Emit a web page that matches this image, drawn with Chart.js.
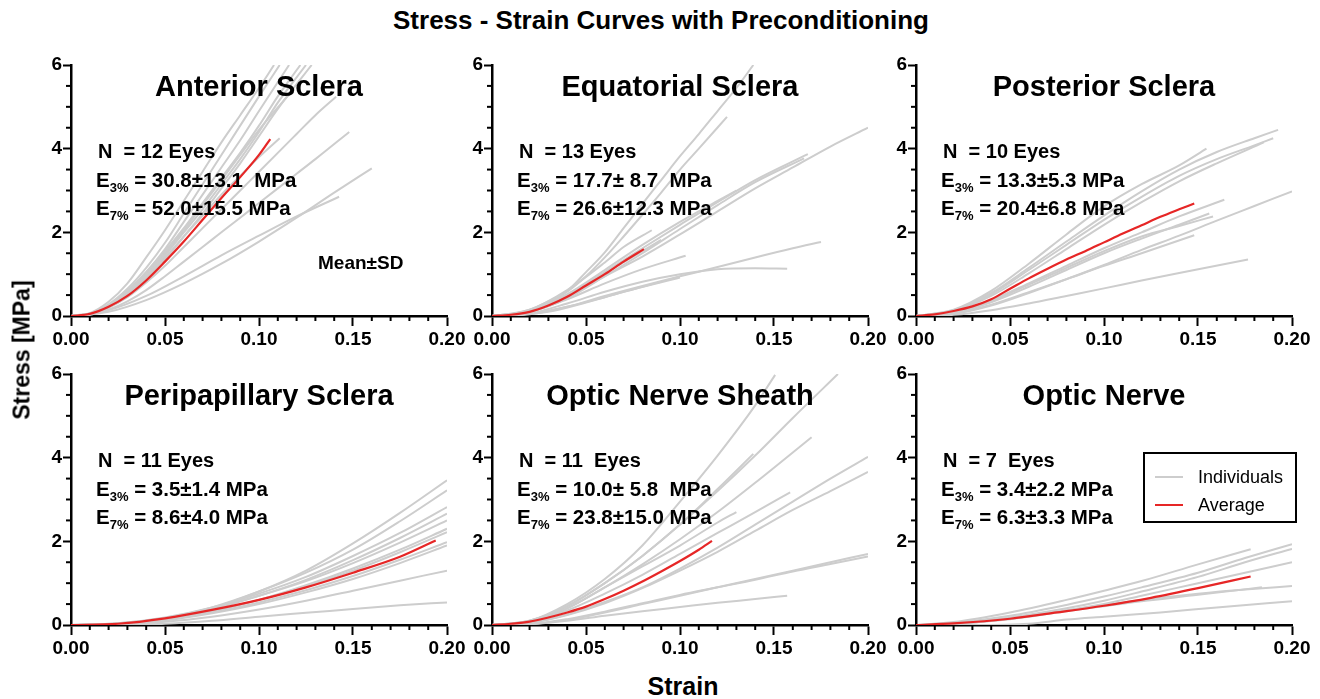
<!DOCTYPE html>
<html>
<head>
<meta charset="utf-8">
<script src="https://cdn.jsdelivr.net/npm/chart.js@4.4.1/dist/chart.umd.min.js"></script>
<style>
  body { margin: 0; background: #fff; width: 1320px; height: 699px; overflow: hidden; position: relative;
         font-family: 'Liberation Sans', Arial, sans-serif; color: #000; }
  canvas { position: absolute; }
  .t { position: absolute; white-space: pre; line-height: 1; font-weight: bold; }
  .c { transform: translate(-50%, -50%); }
  .l { transform: translateY(-50%); }
  .sub { font-size: 13px; position: relative; top: 5px; }
  #legend { position: absolute; left: 1143px; top: 452px; width: 150px; height: 67px; border: 2px solid #000; background: #fff; }
  #legend .row { position: absolute; left: 0; height: 20px; font-size: 18px; line-height: 20px; }
  #legend .sw { position: absolute; left: 10px; top: 9px; width: 28px; height: 2px; }
  #legend .lab { position: absolute; left: 53px; top: 0; white-space: nowrap; }
</style>
</head>
<body>
<script>
// panel order: row 1 then row 2
const panelTitles = ['Anterior Sclera', 'Equatorial Sclera', 'Posterior Sclera',
                     'Peripapillary Sclera', 'Optic Nerve Sheath', 'Optic Nerve'];
const eyeLabels = ['N  = 12 Eyes', 'N  = 13 Eyes', 'N  = 10 Eyes', 'N  = 11 Eyes', 'N  = 11  Eyes', 'N  = 7  Eyes'];
const e3Labels = [' = 30.8±13.1  MPa', ' = 17.7± 8.7  MPa', ' = 13.3±5.3 MPa', ' = 3.5±1.4 MPa', ' = 10.0± 5.8  MPa', ' = 3.4±2.2 MPa'];
const e7Labels = [' = 52.0±15.5 MPa', ' = 26.6±12.3 MPa', ' = 20.4±6.8 MPa', ' = 8.6±4.0 MPa', ' = 23.8±15.0 MPa', ' = 6.3±3.3 MPa'];
const xTicks = [0, 0.05, 0.10, 0.15, 0.20];
const yTicks = [0, 2, 4, 6];

// [strain, stress MPa]
const anteriorIndividuals = [
  [[0,0],[0.01,0.07],[0.02,0.34],[0.03,0.78],[0.04,1.4],[0.05,2.05],[0.06,2.75],[0.07,3.45],[0.08,4.15],[0.09,4.8],[0.1,5.45],[0.108,6.0]],
  [[0,0],[0.01,0.06],[0.02,0.28],[0.03,0.65],[0.04,1.15],[0.05,1.75],[0.06,2.45],[0.07,3.15],[0.08,3.85],[0.09,4.55],[0.1,5.25],[0.111,6.0]],
  [[0,0],[0.01,0.05],[0.02,0.25],[0.03,0.6],[0.04,1.05],[0.05,1.6],[0.06,2.25],[0.07,2.9],[0.08,3.55],[0.09,4.2],[0.1,4.9],[0.116,6.0]],
  [[0,0],[0.01,0.05],[0.02,0.26],[0.03,0.6],[0.04,1.05],[0.05,1.55],[0.06,2.1],[0.07,2.7],[0.08,3.3],[0.09,3.9],[0.1,4.55],[0.11,5.25],[0.122,6.0]],
  [[0,0],[0.01,0.04],[0.02,0.22],[0.03,0.55],[0.04,0.95],[0.05,1.45],[0.06,2.0],[0.07,2.55],[0.08,3.15],[0.09,3.75],[0.1,4.4],[0.11,5.1],[0.125,6.0]],
  [[0,0],[0.01,0.04],[0.02,0.2],[0.03,0.5],[0.04,0.9],[0.05,1.35],[0.06,1.9],[0.07,2.45],[0.08,3.05],[0.09,3.65],[0.1,4.3],[0.11,4.95],[0.128,6.0]],
  [[0,0],[0.01,0.04],[0.02,0.2],[0.03,0.45],[0.04,0.8],[0.05,1.2],[0.06,1.65],[0.07,2.1],[0.08,2.55],[0.09,3.0],[0.1,3.45],[0.11,3.9],[0.12,4.35],[0.13,4.8],[0.141,5.24]],
  [[0,0],[0.01,0.03],[0.02,0.15],[0.03,0.35],[0.04,0.62],[0.05,0.95],[0.06,1.3],[0.07,1.65],[0.08,2.0],[0.09,2.35],[0.1,2.7],[0.11,3.05],[0.12,3.4],[0.13,3.75],[0.148,4.4]],
  [[0,0],[0.01,0.05],[0.02,0.25],[0.03,0.55],[0.04,0.95],[0.05,1.4],[0.06,1.9],[0.07,2.4],[0.08,2.9],[0.09,3.35],[0.1,3.8],[0.111,4.25]],
  [[0,0],[0.02,0.1],[0.04,0.38],[0.06,0.78],[0.08,1.25],[0.1,1.78],[0.12,2.35],[0.14,2.95],[0.16,3.53]],
  [[0,0],[0.02,0.14],[0.04,0.48],[0.06,0.95],[0.08,1.45],[0.1,1.92],[0.12,2.38],[0.1426,2.85]],
  [[0,0],[0.01,0.05],[0.02,0.24],[0.03,0.58],[0.04,1.0],[0.05,1.5],[0.06,2.05],[0.07,2.65],[0.08,3.25],[0.09,3.85],[0.1,4.45],[0.118,5.4]]
];
const anteriorAverage = [[0,0],[0.01,0.05],[0.02,0.22],[0.03,0.48],[0.04,0.85],[0.05,1.3],[0.06,1.78],[0.07,2.3],[0.08,2.82],[0.09,3.32],[0.1,3.85],[0.106,4.23]];

const equatorialIndividuals = [
  [[0,0],[0.01,0.04],[0.02,0.15],[0.03,0.35],[0.04,0.6],[0.05,1.05],[0.06,1.52],[0.07,2.1],[0.08,2.68],[0.09,3.25],[0.1,3.82],[0.11,4.35],[0.12,4.9],[0.13,5.45],[0.139,6.0]],
  [[0,0],[0.01,0.04],[0.02,0.14],[0.03,0.32],[0.04,0.58],[0.05,0.95],[0.06,1.4],[0.07,1.9],[0.08,2.42],[0.09,2.95],[0.1,3.5],[0.11,4.0],[0.125,4.76]],
  [[0,0],[0.02,0.12],[0.04,0.45],[0.06,0.95],[0.08,1.42],[0.1,1.95],[0.12,2.5],[0.14,3.05],[0.16,3.55],[0.18,4.05],[0.2,4.5]],
  [[0,0],[0.02,0.12],[0.04,0.5],[0.06,1.05],[0.08,1.62],[0.1,2.18],[0.12,2.72],[0.14,3.25],[0.168,3.87]],
  [[0,0],[0.02,0.1],[0.04,0.42],[0.06,0.95],[0.08,1.5],[0.1,2.08],[0.12,2.65],[0.14,3.2],[0.166,3.77]],
  [[0,0],[0.02,0.15],[0.04,0.62],[0.06,1.28],[0.07,1.65],[0.085,2.05]],
  [[0,0],[0.02,0.1],[0.04,0.4],[0.06,0.78],[0.08,1.12],[0.103,1.44]],
  [[0,0],[0.02,0.04],[0.04,0.22],[0.06,0.48],[0.08,0.72],[0.1,0.95],[0.12,1.17],[0.14,1.4],[0.16,1.62],[0.175,1.77]],
  [[0,0],[0.02,0.06],[0.04,0.3],[0.06,0.58],[0.08,0.82],[0.1,1.0],[0.12,1.12],[0.14,1.14],[0.157,1.13]],
  [[0,0],[0.02,0.12],[0.04,0.5],[0.06,1.02],[0.08,1.55],[0.09,1.82]],
  [[0,0],[0.02,0.12],[0.04,0.52],[0.06,1.1],[0.08,1.7],[0.1,2.25],[0.12,2.75],[0.13,3.0]],
  [[0,0],[0.02,0.05],[0.04,0.22],[0.06,0.45],[0.08,0.7],[0.09,0.82]],
  [[0,0],[0.03,0.1],[0.05,0.32],[0.07,0.58],[0.1,0.92]]
];
const equatorialAverage = [[0,0],[0.01,0.03],[0.02,0.1],[0.03,0.25],[0.04,0.46],[0.05,0.73],[0.06,1.0],[0.07,1.3],[0.0808,1.6]];

const posteriorIndividuals = [
  [[0,0],[0.02,0.14],[0.04,0.55],[0.06,1.15],[0.08,1.78],[0.1,2.4],[0.12,2.98],[0.14,3.5],[0.16,3.92],[0.18,4.25],[0.1926,4.45]],
  [[0,0],[0.02,0.13],[0.04,0.52],[0.06,1.1],[0.08,1.7],[0.1,2.3],[0.12,2.85],[0.14,3.35],[0.16,3.75],[0.18,4.08],[0.19,4.25]],
  [[0,0],[0.02,0.12],[0.04,0.48],[0.06,1.02],[0.08,1.6],[0.1,2.18],[0.12,2.72],[0.14,3.22],[0.16,3.65],[0.185,4.15]],
  [[0,0],[0.02,0.15],[0.04,0.6],[0.06,1.25],[0.08,1.95],[0.1,2.62],[0.12,3.15],[0.14,3.6],[0.1545,4.0]],
  [[0,0],[0.02,0.1],[0.04,0.38],[0.06,0.78],[0.08,1.2],[0.1,1.62],[0.12,2.0],[0.14,2.38],[0.164,2.78]],
  [[0,0],[0.02,0.08],[0.04,0.33],[0.06,0.7],[0.08,1.1],[0.1,1.5],[0.12,1.85],[0.14,2.18],[0.156,2.45]],
  [[0,0],[0.02,0.06],[0.04,0.27],[0.06,0.57],[0.08,0.88],[0.1,1.2],[0.12,1.5],[0.148,1.93]],
  [[0,0],[0.02,0.05],[0.04,0.25],[0.06,0.55],[0.08,0.88],[0.1,1.22],[0.12,1.58],[0.14,1.92],[0.16,2.28],[0.18,2.63],[0.2,2.98]],
  [[0,0],[0.02,0.03],[0.04,0.14],[0.06,0.3],[0.08,0.48],[0.1,0.66],[0.12,0.85],[0.14,1.03],[0.1766,1.35]],
  [[0,0],[0.02,0.09],[0.04,0.36],[0.06,0.75],[0.08,1.15],[0.1,1.55],[0.12,1.9],[0.14,2.15],[0.158,2.38]]
];
const posteriorAverage = [[0,0],[0.01,0.04],[0.02,0.12],[0.03,0.23],[0.04,0.4],[0.05,0.65],[0.06,0.9],[0.07,1.13],[0.08,1.35],[0.09,1.55],[0.1,1.76],[0.11,1.97],[0.12,2.17],[0.13,2.37],[0.14,2.55],[0.148,2.69]];

const peripapillaryIndividuals = [
  [[0,0],[0.025,0.03],[0.05,0.15],[0.075,0.4],[0.1,0.8],[0.125,1.3],[0.15,1.95],[0.175,2.68],[0.2,3.46]],
  [[0,0],[0.025,0.03],[0.05,0.16],[0.075,0.42],[0.1,0.8],[0.125,1.25],[0.15,1.8],[0.175,2.48],[0.2,3.22]],
  [[0,0],[0.025,0.04],[0.05,0.18],[0.075,0.42],[0.1,0.75],[0.125,1.15],[0.15,1.65],[0.175,2.2],[0.2,2.82]],
  [[0,0],[0.025,0.03],[0.05,0.15],[0.075,0.38],[0.1,0.7],[0.125,1.08],[0.15,1.55],[0.175,2.08],[0.2,2.66]],
  [[0,0],[0.025,0.04],[0.05,0.17],[0.075,0.4],[0.1,0.7],[0.125,1.05],[0.15,1.48],[0.175,1.97],[0.2,2.5]],
  [[0,0],[0.025,0.02],[0.05,0.12],[0.075,0.32],[0.1,0.6],[0.125,0.95],[0.15,1.35],[0.175,1.8],[0.2,2.3]],
  [[0,0],[0.025,0.03],[0.05,0.14],[0.075,0.34],[0.1,0.6],[0.125,0.92],[0.15,1.3],[0.175,1.74],[0.2,2.22]],
  [[0,0],[0.025,0.03],[0.05,0.13],[0.075,0.3],[0.1,0.54],[0.125,0.83],[0.15,1.17],[0.175,1.56],[0.2,1.98]],
  [[0,0],[0.025,0.02],[0.05,0.11],[0.075,0.28],[0.1,0.5],[0.125,0.78],[0.15,1.1],[0.175,1.48],[0.2,1.9]],
  [[0,0],[0.025,0.02],[0.05,0.08],[0.075,0.2],[0.1,0.37],[0.125,0.58],[0.15,0.82],[0.175,1.06],[0.2,1.3]],
  [[0,0],[0.025,0.0],[0.05,0.03],[0.075,0.1],[0.1,0.2],[0.125,0.29],[0.15,0.38],[0.175,0.47],[0.2,0.54]]
];
const peripapillaryAverage = [[0,0],[0.025,0.03],[0.05,0.16],[0.075,0.36],[0.1,0.6],[0.125,0.9],[0.15,1.25],[0.175,1.63],[0.194,2.02]];

const sheathIndividuals = [
  [[0,0],[0.02,0.1],[0.04,0.5],[0.06,1.1],[0.08,1.9],[0.1,2.95],[0.12,4.05],[0.14,5.25],[0.1506,5.98]],
  [[0,0],[0.02,0.1],[0.04,0.45],[0.06,1.0],[0.08,1.65],[0.1,2.4],[0.12,3.2],[0.14,4.05],[0.16,4.95],[0.184,6.0]],
  [[0,0],[0.02,0.1],[0.04,0.45],[0.06,1.0],[0.08,1.65],[0.1,2.4],[0.12,3.25],[0.139,4.09]],
  [[0,0],[0.02,0.08],[0.04,0.4],[0.06,0.9],[0.08,1.45],[0.1,2.05],[0.12,2.7],[0.14,3.4],[0.17,4.49]],
  [[0,0],[0.02,0.08],[0.04,0.35],[0.06,0.75],[0.08,1.2],[0.1,1.7],[0.12,2.2],[0.14,2.7],[0.1586,3.17]],
  [[0,0],[0.02,0.05],[0.04,0.25],[0.06,0.55],[0.08,0.9],[0.1,1.35],[0.12,1.85],[0.14,2.4],[0.16,2.95],[0.18,3.5],[0.2,4.02]],
  [[0,0],[0.02,0.05],[0.04,0.24],[0.06,0.52],[0.08,0.88],[0.1,1.3],[0.12,1.75],[0.14,2.25],[0.16,2.75],[0.18,3.2],[0.2,3.66]],
  [[0,0],[0.02,0.02],[0.04,0.12],[0.06,0.3],[0.08,0.5],[0.1,0.7],[0.12,0.9],[0.14,1.1],[0.16,1.3],[0.18,1.5],[0.2,1.7]],
  [[0,0],[0.02,0.02],[0.04,0.1],[0.06,0.22],[0.08,0.33],[0.1,0.43],[0.12,0.53],[0.14,0.62],[0.157,0.7]],
  [[0,0],[0.02,0.02],[0.04,0.14],[0.06,0.32],[0.08,0.52],[0.1,0.72],[0.12,0.9],[0.14,1.08],[0.16,1.28],[0.18,1.46],[0.2,1.64]],
  [[0,0],[0.02,0.08],[0.04,0.4],[0.06,0.9],[0.08,1.4],[0.1,1.9],[0.12,2.45],[0.13,2.7]]
];
const sheathAverage = [[0,0],[0.01,0.03],[0.02,0.08],[0.03,0.18],[0.04,0.3],[0.05,0.44],[0.06,0.62],[0.07,0.82],[0.08,1.04],[0.09,1.28],[0.1,1.53],[0.11,1.8],[0.117,2.01]];

const nerveIndividuals = [
  [[0,0],[0.02,0.07],[0.05,0.3],[0.08,0.6],[0.1,0.82],[0.12,1.05],[0.15,1.45],[0.178,1.81]],
  [[0,0],[0.02,0.05],[0.05,0.22],[0.08,0.48],[0.1,0.68],[0.12,0.9],[0.15,1.25],[0.175,1.6],[0.2,1.93]],
  [[0,0],[0.02,0.04],[0.05,0.18],[0.08,0.4],[0.1,0.58],[0.12,0.8],[0.15,1.15],[0.175,1.5],[0.2,1.82]],
  [[0,0],[0.02,0.03],[0.05,0.15],[0.08,0.35],[0.1,0.5],[0.12,0.7],[0.15,1.0],[0.175,1.25],[0.2,1.5]],
  [[0,0],[0.02,0.03],[0.05,0.15],[0.08,0.35],[0.1,0.47],[0.12,0.6],[0.15,0.75],[0.175,0.85],[0.2,0.93]],
  [[0,0],[0.02,0.03],[0.05,0.14],[0.08,0.33],[0.1,0.45],[0.12,0.57],[0.15,0.72],[0.184,0.9]],
  [[0,0],[0.03,0.0],[0.06,0.03],[0.08,0.13],[0.1,0.2],[0.13,0.3],[0.16,0.42],[0.2,0.57]]
];
const nerveAverage = [[0,0],[0.02,0.04],[0.05,0.15],[0.075,0.3],[0.1,0.46],[0.125,0.65],[0.15,0.88],[0.178,1.16]];

const individualsByPanel = [anteriorIndividuals, equatorialIndividuals, posteriorIndividuals,
                            peripapillaryIndividuals, sheathIndividuals, nerveIndividuals];
const averageByPanel = [anteriorAverage, equatorialAverage, posteriorAverage,
                        peripapillaryAverage, sheathAverage, nerveAverage];

// layout
const colLefts = [71, 492, 916];
const rowTops = [65, 374];
const plotW = 376, plotH = 251;
const padL = 64, padT = 14, padR = 30, padB = 36;
const gray = 'rgb(205,205,205)';
const red = 'rgb(230,38,38)';

Chart.defaults.font.family = "'Liberation Sans', Arial, sans-serif";
Chart.defaults.color = '#000';

// minor ticks every 0.01 strain and 0.5 MPa
const minorTicks = {
  id: 'minorTicks',
  afterDraw(chart) {
    const { ctx } = chart;
    const x = chart.scales.x, y = chart.scales.y;
    ctx.save();
    ctx.strokeStyle = '#000';
    ctx.lineWidth = 2;
    for (let i = 1; i < 20; i++) {
      if (i % 5 === 0) continue;
      const px = x.getPixelForValue(i / 100);
      ctx.beginPath();
      ctx.moveTo(px, y.bottom);
      ctx.lineTo(px, y.bottom + 5);
      ctx.stroke();
    }
    for (let i = 1; i < 12; i++) {
      if (i % 4 === 0) continue;
      const py = y.getPixelForValue(i / 2);
      ctx.beginPath();
      ctx.moveTo(x.left, py);
      ctx.lineTo(x.left - 5, py);
      ctx.stroke();
    }
    ctx.restore();
  }
};

function addText(html, x, y, size, cls, extra) {
  const d = document.createElement('div');
  d.className = 't ' + cls;
  d.style.left = x + 'px';
  d.style.top = y + 'px';
  d.style.fontSize = size + 'px';
  if (extra) Object.assign(d.style, extra);
  d.innerHTML = html;
  document.body.appendChild(d);
  return d;
}

function toPoints(curve) {
  return curve.map(p => ({ x: p[0], y: p[1] }));
}

for (let i = 0; i < 6; i++) {
  const left = colLefts[i % 3];
  const top = rowTops[Math.floor(i / 3)];

  const canvas = document.createElement('canvas');
  canvas.width = plotW + padL + padR;
  canvas.height = plotH + padT + padB;
  canvas.style.left = (left - padL) + 'px';
  canvas.style.top = (top - padT) + 'px';
  document.body.appendChild(canvas);

  // average first so it is painted on top of the individuals
  const datasets = [{
    data: toPoints(averageByPanel[i]),
    borderColor: red,
    borderWidth: 2.2,
    pointRadius: 0,
    showLine: true,
    order: 0,
    cubicInterpolationMode: 'monotone'
  }];
  individualsByPanel[i].forEach(curve => datasets.push({
    data: toPoints(curve),
    borderColor: gray,
    borderWidth: 2,
    pointRadius: 0,
    showLine: true,
    order: 1,
    cubicInterpolationMode: 'monotone'
  }));

  new Chart(canvas, {
    type: 'scatter',
    data: { datasets },
    options: {
      responsive: false,
      animation: false,
      devicePixelRatio: 1,
      layout: { padding: { left: 0, top: padT, right: padR, bottom: 0 } },
      plugins: { legend: { display: false }, tooltip: { enabled: false } },
      scales: {
        x: {
          type: 'linear', min: 0, max: 0.2,
          afterBuildTicks: s => { s.ticks = xTicks.map(v => ({ value: v })); },
          afterFit: s => { s.height = padB; },
          ticks: { font: { size: 19, weight: 'bold' }, padding: 2, maxRotation: 0, autoSkip: false,
                   callback: v => v.toFixed(2) },
          grid: { drawOnChartArea: false, tickLength: 10, tickWidth: 2, tickColor: '#000' },
          border: { color: '#000', width: 2.5 }
        },
        y: {
          type: 'linear', min: 0, max: 6,
          afterBuildTicks: s => { s.ticks = yTicks.map(v => ({ value: v })); },
          afterFit: s => { s.width = padL; },
          ticks: { font: { size: 19, weight: 'bold' }, padding: 1, callback: v => String(v) },
          grid: { drawOnChartArea: false, tickLength: 8, tickWidth: 2, tickColor: '#000' },
          border: { color: '#000', width: 2.5 }
        }
      }
    },
    plugins: [minorTicks]
  });

  // panel texts
  addText(panelTitles[i], left + plotW / 2, top + 21, 29, 'c');
  addText(eyeLabels[i], left + 27, top + 86, 20, 'l');
  addText('E<span class="sub">3%</span>' + e3Labels[i], left + 25, top + 115, 20.5, 'l');
  addText('E<span class="sub">7%</span>' + e7Labels[i], left + 25, top + 143, 20.5, 'l');
}

addText('Mean±SD', 318, 262, 19, 'l');
addText('Stress - Strain Curves with Preconditioning', 661, 20, 26, 'c');
addText('Strain', 683, 686, 25, 'c');
addText('Stress [MPa]', 22, 350, 23, 'c', { transform: 'translate(-50%, -50%) rotate(-90deg)' });

// legend
const legend = document.createElement('div');
legend.id = 'legend';
[['Individuals', gray, 13], ['Average', red, 41]].forEach(([name, color, y]) => {
  const row = document.createElement('div');
  row.className = 'row';
  row.style.top = y + 'px';
  row.style.width = '150px';
  row.innerHTML = '<div class="sw" style="background:' + color + '"></div><div class="lab">' + name + '</div>';
  legend.appendChild(row);
});
document.body.appendChild(legend);
</script>
</body>
</html>
